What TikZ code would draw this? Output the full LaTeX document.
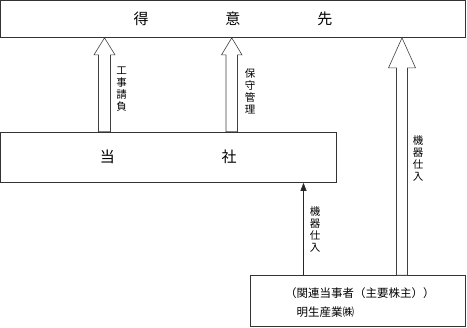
\documentclass[tikz,border=0pt]{standalone}
\usepackage{fontspec}
\newfontfamily\jp{Noto Sans CJK JP}
\usetikzlibrary{calc,arrows.meta}
\tikzset{
  boxline/.style={draw=black!80, line width=0.7pt},
  hollow/.style={draw=black!75, line width=0.6pt, fill=white},
  vlabel/.style={font=\jp\fontsize{10.5}{12}\selectfont, align=center, inner sep=0pt},
  bigtext/.style={font=\jp\fontsize{15}{18}\selectfont},
  smalltext/.style={font=\jp\fontsize{11.5}{13}\selectfont, inner sep=0pt, anchor=west},
}
\newcommand\hollowup[5]{%
  \draw[hollow] (#1) -- ($(#1)+(#4,#5)$) -- ($(#1)+(#3,#5)$) -- ($(#2)+(#3,0)$)
    -- ($(#2)+(-#3,0)$) -- ($(#1)+(-#3,#5)$) -- ($(#1)+(-#4,#5)$) -- cycle;}
\begin{document}
\begin{tikzpicture}[x=1pt,y=-1pt]
\useasboundingbox (0,0) rectangle (467,328);
\node[boxline, bigtext, minimum width=465pt, minimum height=37pt, inner sep=0pt] (top) at (233,19)
  {得\hspace{77pt}意\hspace{77pt}先};
\node[boxline, bigtext, minimum width=335.5pt, minimum height=50.5pt, inner sep=0pt] (tousha) at (168.25,157.25)
  {当\hspace{107pt}社};
\node[boxline, minimum width=215.5pt, minimum height=51pt, inner sep=0pt] (meisei) at (357.75,301) {};
\node[smalltext] (rel) at (285,293.5) {（関連当事者（主要株主））};
\node[smalltext] (name) at (296.5,312.5) {明生産業㈱};
% hollow arrows
\coordinate (x1) at (104.5,0);
\coordinate (x2) at (231.75,0);
\coordinate (x3) at (402,0);
\hollowup{x1 |- top.south}{x1 |- tousha.north}{6}{10.5}{17}
\hollowup{x2 |- top.south}{x2 |- tousha.north}{5.75}{10.25}{17}
\hollowup{x3 |- top.south}{x3 |- meisei.north}{5.5}{13.5}{30}
% solid arrow
\coordinate (x4) at (303.5,0);
\draw[black!85, line width=0.6pt, -{Triangle[length=8pt,width=6pt]}] (x4 |- meisei.north) -- (x4 |- tousha.south);
% labels
\node[vlabel] (l1) at (121.7,89) {工\\事\\請\\負};
\node[vlabel] (l2) at (250,91) {保\\守\\管\\理};
\node[vlabel] (l3) at (418,158.5) {機\\器\\仕\\入};
\node[vlabel] (l4) at (315,229.5) {機\\器\\仕\\入};
\end{tikzpicture}
\end{document}
